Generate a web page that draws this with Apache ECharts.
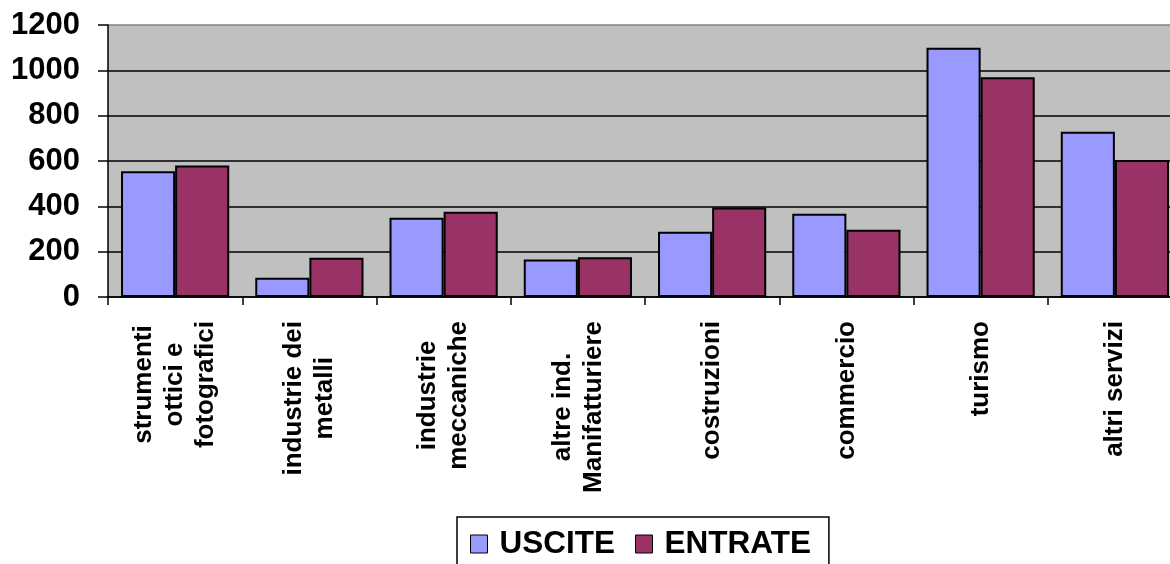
<!DOCTYPE html>
<html>
<head>
<meta charset="utf-8">
<script src="https://cdn.jsdelivr.net/npm/echarts@6/dist/echarts.min.js"></script>
<style>html,body{margin:0;padding:0;background:#fff}#c{width:1170px;height:564px}</style>
</head>
<body>
<div id="c"></div>
<script>
const categories = [
  "strumenti\nottici e\nfotografici",
  "industrie dei\nmetalli",
  "industrie\nmeccaniche",
  "altre ind.\nManifatturiere",
  "costruzioni",
  "commercio",
  "turismo",
  "altri servizi"
];
const uscite  = [555, 85, 350, 165, 288, 367, 1100, 729];
const entrate = [580, 173, 376, 175, 395, 297, 969, 604];
const yTicks = [0, 200, 400, 600, 800, 1000, 1200];

const chart = echarts.init(document.getElementById('c'));
const barStyle = (c) => ({ color: c, borderColor: '#000', borderWidth: 2 });
chart.setOption({
  animation: false,
  textStyle: { fontFamily: 'Liberation Sans, Arial, sans-serif' },
  grid: {
    left: 108, top: 25, width: 1074, bottom: 267, containLabel: false,
    outerBoundsMode: 'none',
    show: true, backgroundColor: '#C0C0C0', borderColor: '#808080', borderWidth: 0
  },
  legend: {
    left: 457, top: 517,
    padding: [10, 18, 20, 13],
    borderColor: '#000', borderWidth: 1.5,
    itemWidth: 17, itemHeight: 18, itemGap: 20,
    icon: 'rect',
    itemStyle: { borderColor: '#000', borderWidth: 1 },
    textStyle: { fontSize: 31.5, fontWeight: 'bold', color: '#000', padding: [0, 0, 0, 7], lineHeight: 34,
                 fontFamily: 'Liberation Sans, Arial, sans-serif' },
    data: ['USCITE', 'ENTRATE']
  },
  xAxis: {
    type: 'category',
    data: categories,
    axisLine: { lineStyle: { color: '#000', width: 1.5 } },
    axisTick: { show: true, length: 8, lineStyle: { color: '#000', width: 1.5 } },
    axisLabel: {
      rotate: 90, margin: 24, interval: 0,
      formatter: (v) => v.split('\n').map(s => '{a|' + s + '}').join('\n'),
      rich: { a: { fontSize: 26, fontWeight: 'bold', color: '#000', lineHeight: 31, align: 'center',
                   fontFamily: 'Liberation Sans, Arial, sans-serif' } }
    }
  },
  yAxis: {
    type: 'value', min: yTicks[0], max: yTicks[yTicks.length - 1], interval: 200,
    axisLine: { show: true, lineStyle: { color: '#000', width: 1.5 } },
    axisTick: { show: true, length: 10, lineStyle: { color: '#000', width: 1.5 } },
    axisLabel: { fontSize: 31, fontWeight: 'bold', color: '#000', margin: 28,
                 formatter: (v) => String(v),
                 fontFamily: 'Liberation Sans, Arial, sans-serif' },
    splitLine: { show: true, lineStyle: { color: ['#000','#000','#000','#000','#000','#000','#808080'], width: 1.5 } }
  },
  series: [
    { name: 'USCITE', type: 'bar', data: uscite, barGap: '0%', barCategoryGap: '19.4%', itemStyle: barStyle('#9999FF') },
    { name: 'ENTRATE', type: 'bar', data: entrate, barGap: '0%', barCategoryGap: '19.4%', itemStyle: barStyle('#993366') }
  ]
});
</script>
</body>
</html>
